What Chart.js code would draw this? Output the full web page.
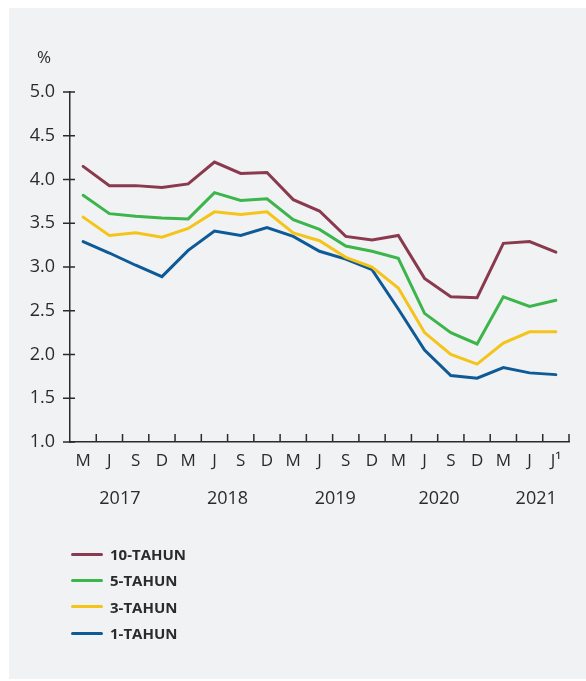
<!DOCTYPE html>
<html>
<head>
<meta charset="utf-8">
<script src="https://cdn.jsdelivr.net/npm/chart.js@4"></script>
<style>
  html, body { margin: 0; padding: 0; background: #fff; }
  #panel { position: absolute; left: 9px; top: 8px; width: 577px; height: 671px; background: #f1f2f4; }
  #chart { position: absolute; left: 0; top: 0; }
  #legend { position: absolute; left: 62px; top: 533px; font-family: "Open Sans", sans-serif; font-weight: 700; font-size: 15px; color: #2b2b2b; }
  .row { display: flex; align-items: center; height: 26.3px; }
  .swatch { width: 32px; height: 3px; border-radius: 2px; margin-right: 7px; }
</style>
</head>
<body>
<div id="panel">
  <canvas id="chart" width="577" height="671"></canvas>
  <div id="legend"></div>
</div>
<script>
const months = ['M', 'J', 'S', 'D', 'M', 'J', 'S', 'D', 'M', 'J', 'S', 'D', 'M', 'J', 'S', 'D', 'M', 'J', 'J\u00b9'];
const years = ['2017', '2018', '2019', '2020', '2021'];
const yearCenters = [1.4, 5.5, 9.6, 13.55, 17.25];

const tenYear = [4.15, 3.93, 3.93, 3.91, 3.95, 4.20, 4.07, 4.08, 3.77, 3.64, 3.35, 3.31, 3.36, 2.87, 2.66, 2.65, 3.27, 3.29, 3.17];
const fiveYear = [3.82, 3.61, 3.58, 3.56, 3.55, 3.85, 3.76, 3.78, 3.54, 3.43, 3.24, 3.18, 3.10, 2.47, 2.25, 2.12, 2.66, 2.55, 2.62];
const threeYear = [3.57, 3.36, 3.39, 3.34, 3.44, 3.63, 3.60, 3.63, 3.39, 3.30, 3.11, 3.00, 2.76, 2.25, 2.00, 1.89, 2.13, 2.26, 2.26];
const oneYear = [3.29, 3.16, 3.02, 2.89, 3.19, 3.41, 3.36, 3.45, 3.35, 3.18, 3.09, 2.97, 2.52, 2.05, 1.76, 1.73, 1.85, 1.79, 1.77];

const axisColor = '#2b2b2b';
const textColor = '#2b2b2b';
const fontFamily = '"Open Sans", sans-serif';

function line(label, data, color) {
  return { label, data, borderColor: color, backgroundColor: color, borderWidth: 3, pointRadius: 0, tension: 0, borderCapStyle: 'round', borderJoinStyle: 'miter' };
}

const axisMarks = {
  id: 'axisMarks',
  afterDraw(chart) {
    const { ctx, chartArea, scales: { x, y } } = chart;
    ctx.save();
    ctx.strokeStyle = axisColor;
    ctx.lineWidth = 1.5;
    ctx.beginPath();
    y.ticks.forEach((t) => {
      const py = y.getPixelForValue(t.value);
      ctx.moveTo(chartArea.left - 7, py);
      ctx.lineTo(chartArea.left + 5, py);
    });
    const half = (x.getPixelForValue(1) - x.getPixelForValue(0)) / 2;
    months.forEach((_, i) => {
      const px = x.getPixelForValue(i) + half;
      ctx.moveTo(px, chartArea.bottom);
      ctx.lineTo(px, chartArea.bottom - 8);
    });
    ctx.stroke();

    ctx.fillStyle = textColor;
    ctx.font = '18px ' + fontFamily;
    ctx.textAlign = 'center';
    ctx.textBaseline = 'middle';
    years.forEach((yr, k) => ctx.fillText(yr, x.getPixelForValue(yearCenters[k]), chartArea.bottom + 57));
    ctx.font = '17px ' + fontFamily;
    ctx.fillText('%', chartArea.left - 26, chartArea.top - 34);
    ctx.restore();
  }
};

const chart = new Chart(document.getElementById('chart'), {
  type: 'line',
  data: {
    labels: months,
    datasets: [
      line('10-TAHUN', tenYear, '#8a3a4e'),
      line('5-TAHUN', fiveYear, '#3cb54a'),
      line('3-TAHUN', threeYear, '#f5c419'),
      line('1-TAHUN', oneYear, '#0e5a97'),
    ]
  },
  options: {
    responsive: false,
    animation: false,
    layout: { padding: { top: 84, right: 17, bottom: 197, left: 0 } },
    plugins: { legend: { display: false }, tooltip: { enabled: false } },
    scales: {
      x: {
        offset: true,
        grid: { display: false, drawTicks: false },
        border: { display: true, color: axisColor, width: 1.5 },
        ticks: { color: textColor, font: { family: fontFamily, size: 17 }, padding: 9, maxRotation: 0, autoSkip: false },
        afterFit: (s) => { s.height = 40; }
      },
      y: {
        min: 1, max: 5,
        grid: { display: false, drawTicks: false },
        border: { display: true, color: axisColor, width: 1.5 },
        ticks: { stepSize: 0.5, color: textColor, font: { family: fontFamily, size: 18 }, padding: 15, callback: (v) => Number(v).toFixed(1) },
        afterFit: (s) => { s.width = 61; }
      }
    }
  },
  plugins: [axisMarks]
});

const legendEl = document.getElementById('legend');
chart.data.datasets.forEach((ds) => {
  const row = document.createElement('div');
  row.className = 'row';
  const sw = document.createElement('span');
  sw.className = 'swatch';
  sw.style.background = ds.borderColor;
  const txt = document.createElement('span');
  txt.textContent = ds.label;
  row.appendChild(sw);
  row.appendChild(txt);
  legendEl.appendChild(row);
});
</script>
</body>
</html>
